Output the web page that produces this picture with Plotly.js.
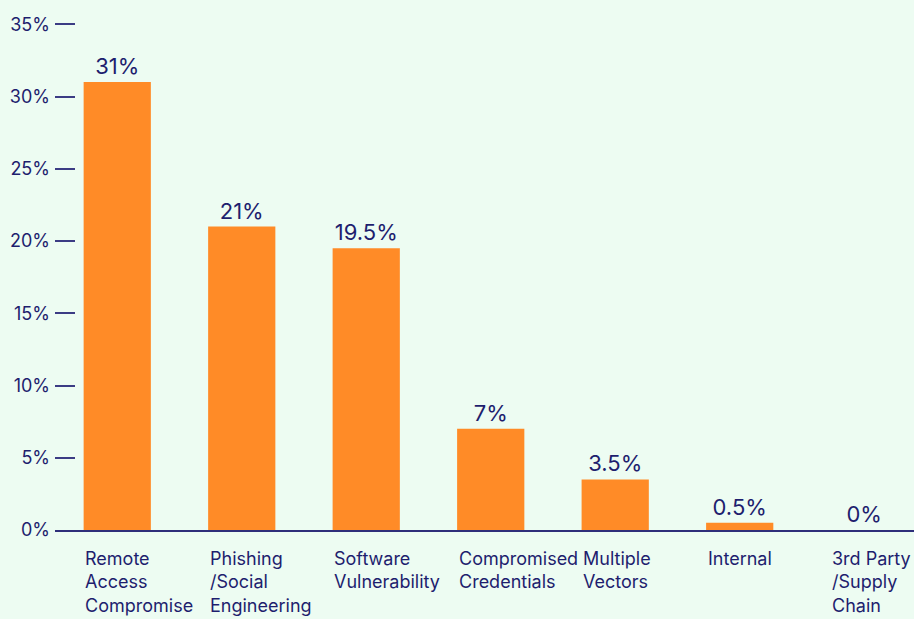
<!DOCTYPE html>
<html>
<head>
<meta charset="utf-8">
<script src="https://cdn.plot.ly/plotly-3.0.1.min.js"></script>
<style>html,body{margin:0;padding:0;background:#EDFCF2;}#chart{width:914px;height:619px;}</style>
</head>
<body>
<div id="chart"></div>
<script>
const categories = ["Remote Access Compromise", "Phishing /Social Engineering", "Software Vulnerability", "Compromised Credentials", "Multiple Vectors", "Internal", "3rd Party /Supply Chain"];
const categoryLabels = ["Remote<br>Access<br>Compromise", "Phishing<br>/Social<br>Engineering", "Software<br>Vulnerability", "Compromised<br>Credentials", "Multiple<br>Vectors", "Internal", "3rd Party<br>/Supply<br>Chain"];
const values = [31, 21, 19.5, 7, 3.5, 0.5, 0];
const yTicks = [0, 5, 10, 15, 20, 25, 30, 35];

const navy = "#1E1E6E";
const fontFam = "Inter, 'Noto Sans', sans-serif";

const trace = {
  type: "bar",
  x: categories,
  y: values,
  marker: {color: "#FF8B27"},
  text: values.map(v => v + "%"),
  textposition: "outside",
  textfont: {family: fontFam, size: 22, color: navy},
  cliponaxis: false,
  hoverinfo: "skip"
};

const annotations = categories.map((c, i) => ({
  x: c, xref: "x", y: 0, yref: "paper",
  text: categoryLabels[i],
  showarrow: false,
  xanchor: "left", yanchor: "top", align: "left",
  xshift: -34, yshift: -16,
  font: {family: fontFam, size: 18, color: navy}
}));

const layout = {
  width: 914, height: 619,
  margin: {l: 55, r: 0, t: 20, b: 89},
  paper_bgcolor: "#EDFCF2",
  plot_bgcolor: "rgba(0,0,0,0)",
  showlegend: false,
  bargap: 0.46,
  font: {family: fontFam, color: navy},
  xaxis: {
    type: "category",
    range: [-0.5, 6.4],
    showticklabels: false,
    ticks: "",
    showgrid: false,
    showline: true,
    linecolor: "#2E2F7A",
    linewidth: 2,
    zeroline: false
  },
  yaxis: {
    range: [0, 35.3],
    tickvals: yTicks,
    ticktext: yTicks.map(v => v + "%"),
    ticks: "inside",
    ticklen: 20,
    tickwidth: 2,
    tickcolor: "#3B3C84",
    ticklabelstandoff: 4,
    tickfont: {family: fontFam, size: 18, color: navy},
    showgrid: false,
    zeroline: false,
    showline: false
  },
  annotations: annotations
};

Plotly.newPlot("chart", [trace], layout, {staticPlot: true, displayModeBar: false});
</script>
</body>
</html>
